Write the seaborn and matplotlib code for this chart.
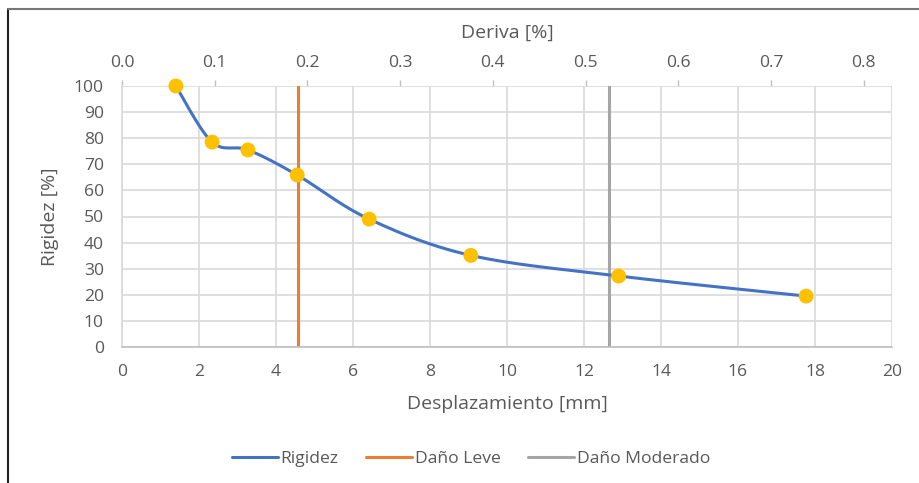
import numpy as np
import pandas as pd
import matplotlib
matplotlib.use("Agg")
import matplotlib.pyplot as plt
import seaborn as sns
from matplotlib.lines import Line2D

# ---- data ----
desplazamiento = [1.40, 2.34, 3.27, 4.55, 6.42, 9.06, 12.90, 17.77]
rigidez = [100.0, 78.5, 75.5, 65.9, 49.0, 35.1, 27.2, 19.5]
dano_leve = 4.57
dano_moderado = 12.66
mm_por_deriva = 24.08          # mm per 1 % drift
x_ticks = list(range(0, 21, 2))
y_ticks = list(range(0, 101, 10))
deriva_ticks = [0.0, 0.1, 0.2, 0.3, 0.4, 0.5, 0.6, 0.7, 0.8]

BLUE = "#4472C4"
GOLD = "#FFC000"
ORANGE = "#ED7D31"
GRAY = "#A5A5A5"
TXT = "#595959"
GRID = "#D9D9D9"

TICK_FS = 12.6
LABEL_FS = 14.0
LEG_FS = 12.6


def smooth(xs, ys, n=30):
    """Excel-style smoothed line (Catmull-Rom / Bezier with 1/6 control points)."""
    P = np.column_stack([xs, ys]).astype(float)
    P = np.vstack([P[0], P, P[-1]])
    out = []
    for i in range(1, len(P) - 2):
        p0, p1, p2, p3 = P[i - 1], P[i], P[i + 1], P[i + 2]
        c1 = p1 + (p2 - p0) / 6.0
        c2 = p2 - (p3 - p1) / 6.0
        t = np.linspace(0, 1, n)[:, None]
        seg = ((1 - t) ** 3) * p1 + 3 * ((1 - t) ** 2) * t * c1 + 3 * (1 - t) * t ** 2 * c2 + t ** 3 * p2
        out.append(seg if i == 1 else seg[1:])
    S = np.vstack(out)
    return S[:, 0], S[:, 1]


sns.set_theme(style="white")
plt.rcParams["font.family"] = ["Open Sans", "DejaVu Sans"]

fig = plt.figure(figsize=(9.19, 4.83), dpi=100)
ax = fig.add_axes([122 / 919, 1 - 347 / 483, 770 / 919, 261 / 483])

sx, sy = smooth(desplazamiento, rigidez)
curve = pd.DataFrame({"x": sx, "y": sy})
pts = pd.DataFrame({"x": desplazamiento, "y": rigidez})

ax.set_xlim(0, 20)
ax.set_ylim(0, 100)
ax.set_xticks(x_ticks)
ax.set_yticks(y_ticks)
ax.grid(True, color=GRID, linewidth=1.2)
ax.set_axisbelow(True)

ax.axvline(dano_leve, color=ORANGE, linewidth=2.2, zorder=2)
ax.axvline(dano_moderado, color=GRAY, linewidth=2.2, zorder=2)
sns.lineplot(data=curve, x="x", y="y", ax=ax, color=BLUE, linewidth=2.2,
             sort=False, estimator=None, zorder=3)
sns.scatterplot(data=pts, x="x", y="y", ax=ax, color=GOLD, s=115,
                edgecolor="none", zorder=4, clip_on=False)

for side in ["top", "right"]:
    ax.spines[side].set_visible(False)
ax.spines["left"].set_color(GRID)
ax.spines["left"].set_linewidth(1.2)
ax.spines["bottom"].set_color("#BFBFBF")
ax.spines["bottom"].set_linewidth(1.2)

ax.tick_params(axis="y", length=0, labelsize=TICK_FS, labelcolor=TXT, pad=13)
ax.tick_params(axis="x", length=0, labelsize=TICK_FS, labelcolor=TXT, pad=12)
ax.set_xlabel("Desplazamiento [mm]", fontsize=LABEL_FS, color=TXT, labelpad=11)
ax.set_ylabel("Rigidez [%]", fontsize=LABEL_FS, color=TXT, labelpad=11)

sec = ax.secondary_xaxis("top", functions=(lambda v: v / mm_por_deriva,
                                           lambda v: v * mm_por_deriva))
sec.set_xticks(deriva_ticks)
sec.set_xticklabels([f"{v:.1f}" for v in deriva_ticks])
sec.tick_params(axis="x", length=4, width=1, color="#BFBFBF", labelsize=TICK_FS,
                labelcolor=TXT, pad=7)
sec.spines["top"].set_visible(False)
sec.set_xlabel("Deriva [%]", fontsize=LABEL_FS, color=TXT, labelpad=12)

handles = [Line2D([], [], color=BLUE, linewidth=2.2),
           Line2D([], [], color=ORANGE, linewidth=2.2),
           Line2D([], [], color=GRAY, linewidth=2.2)]
fig.legend(handles, ["Rigidez", "Daño Leve", "Daño Moderado"], loc="center",
           bbox_to_anchor=(471 / 919, 1 - 459 / 483), ncol=3, frameon=False,
           fontsize=LEG_FS, labelcolor=TXT, handlelength=2.6, handletextpad=0.15,
           columnspacing=1.6)

# outer frame (left and top)
fig.add_artist(Line2D([8 / 919, 8 / 919], [0, 1 - 9 / 483], color="#222222",
                      linewidth=1.5, transform=fig.transFigure))
fig.add_artist(Line2D([8 / 919, 1], [1 - 9 / 483, 1 - 9 / 483], color="#777777",
                      linewidth=1.5, transform=fig.transFigure))

fig.savefig("out.png", dpi=100)
